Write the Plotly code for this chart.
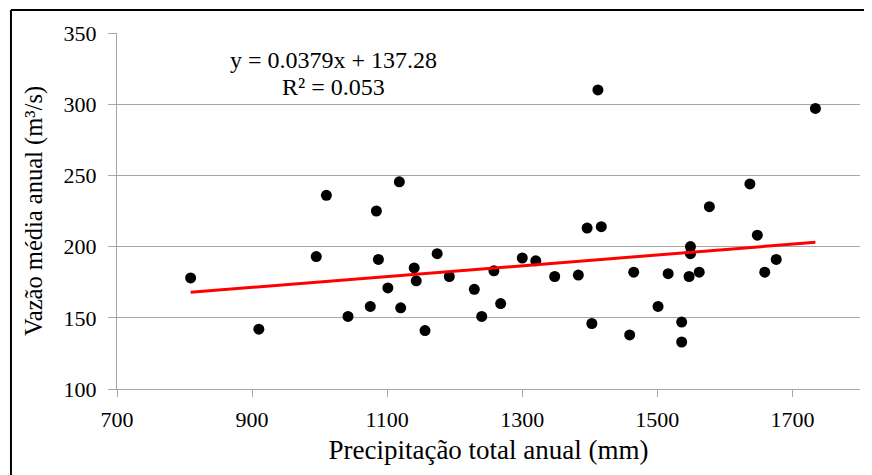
import plotly.graph_objects as go

# annual precipitation (mm) vs mean annual discharge (m3/s)
precip = [809, 910, 995, 1010, 1042, 1075, 1084, 1087, 1101, 1118, 1120,
          1140, 1143, 1156, 1174, 1192, 1229, 1240, 1258, 1268, 1300, 1320,
          1348, 1383, 1396, 1403, 1412, 1417, 1459, 1465, 1501, 1516, 1536,
          1536, 1549, 1549, 1547, 1562, 1577, 1637, 1648, 1659, 1676, 1734]
vazao = [178, 142, 193, 236, 151, 158, 225, 191, 171, 245.5, 157,
         185, 176, 141, 195, 179, 170, 151, 183, 160, 192, 190,
         179, 180, 213, 146, 310, 214, 138, 182, 158, 181, 147,
         133, 200, 195, 179, 182, 228, 244, 208, 182, 191, 297]

# linear trend as reported on the chart
slope = 0.0379
intercept = 137.28
r2 = 0.053

trend_x = [min(precip), max(precip)]
trend_y = [slope * v + intercept for v in trend_x]

font = "Liberation Serif"

fig = go.Figure()
fig.add_trace(go.Scatter(x=precip, y=vazao, mode="markers",
                         marker=dict(color="black", size=11), showlegend=False))
fig.add_trace(go.Scatter(x=trend_x, y=trend_y, mode="lines",
                         line=dict(color="#ff0000", width=3), showlegend=False))

# page has an 8px body margin, so the figure is sized to fit the window
fig.update_layout(
    width=864, height=467,
    margin=dict(l=109, r=12, t=25, b=86),
    paper_bgcolor="white", plot_bgcolor="white",
    font=dict(family=font, color="black"),
)
fig.update_xaxes(range=[700, 1800], tickvals=[700, 900, 1100, 1300, 1500, 1700],
                 showgrid=False, zeroline=False, showline=True, linecolor="#a6a6a6", linewidth=1,
                 ticks="outside", ticklen=7, tickcolor="#a6a6a6", ticklabelstandoff=4,
                 tickfont=dict(size=22, family=font),
                 title=dict(text="Precipitação total anual (mm)", font=dict(size=27, family=font), standoff=8))
fig.update_yaxes(range=[100, 350], dtick=50,
                 showgrid=True, gridcolor="#a6a6a6", gridwidth=1, zeroline=False,
                 showline=True, linecolor="#a6a6a6", linewidth=1,
                 ticks="outside", ticklen=8, tickcolor="#a6a6a6", ticklabelstandoff=7,
                 tickfont=dict(size=22, family=font),
                 title=dict(text="Vazão média anual (m³/s)", font=dict(size=24.5, family=font), standoff=14))

fig.add_annotation(x=0.291, y=0.924, xref="paper", yref="paper", showarrow=False,
                   xanchor="center", yanchor="middle",
                   text="y = %.4fx + %.2f" % (slope, intercept), font=dict(size=24, family=font))
fig.add_annotation(x=0.291, y=0.848, xref="paper", yref="paper", showarrow=False,
                   xanchor="center", yanchor="middle",
                   text="R² = %.3f" % r2, font=dict(size=24, family=font))

# outer frame of the chart (only left and top edges fall inside the picture)
fig.add_shape(type="line", xref="paper", yref="paper", x0=-0.1427, x1=-0.1427, y0=-0.5, y1=1.0646,
              line=dict(color="black", width=2), layer="below")
fig.add_shape(type="line", xref="paper", yref="paper", x0=-0.1427, x1=1.2, y0=1.0646, y1=1.0646,
              line=dict(color="black", width=2), layer="below")

fig.write_html("out.html")
